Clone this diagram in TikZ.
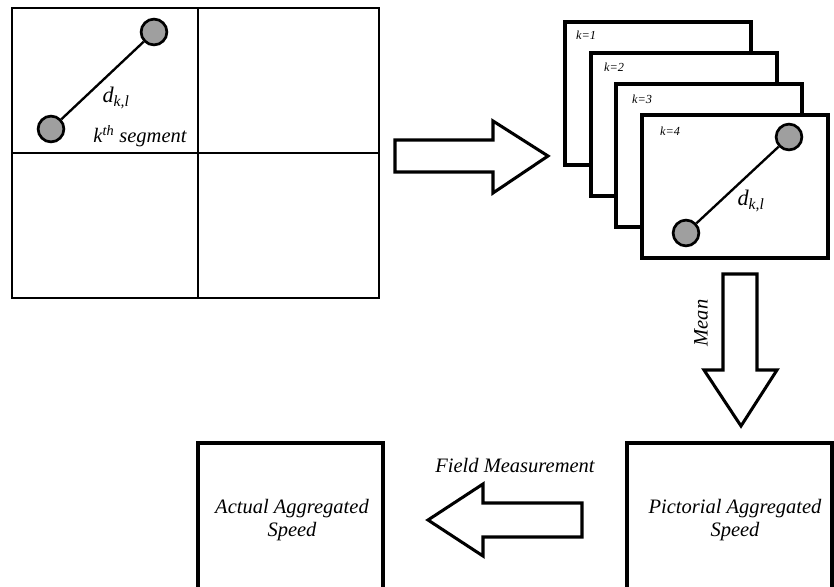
\documentclass[tikz,border=0pt]{standalone}
\usepackage{fontspec}
\setmainfont{Liberation Serif}
\usepackage{tikz}

\tikzset{
	dot/.style={circle, draw, line width=2.3pt, fill=gray!75, minimum size=22pt, inner sep=0pt},
	frame/.style={draw, line width=3.3pt, fill=white},
	block/.style={draw, line width=2.6pt, fill=white, line join=miter},
	lbl/.style={font=\itshape\fontsize{17.5}{19}\selectfont, align=center},
	klbl/.style={font=\itshape\fontsize{10.5}{12}\selectfont, anchor=west}
}

\begin{document}
\begin{tikzpicture}[x=0.03cm, y=-0.03cm]
					\useasboundingbox (0, 0) rectangle (834, 587);
					
					% segment grid
					\draw[line width=1.6pt] (12, 8) rectangle (379, 298);
					\draw[line width=1.6pt] (198, 8) -- (198, 298);
					\draw[line width=1.6pt] (12, 153) -- (379, 153);
					\node[dot] (GridA) at (51, 129) {};
					\node[dot] (GridB) at (154, 32) {};
					\draw[line width=2pt] (GridA) -- (GridB);
					\node[lbl, font=\itshape\fontsize{19}{21}\selectfont] (GridD) at (116, 98) {d\textsubscript{k,l}};
					\node[lbl] (Segment) at (140, 136) {k\textsuperscript{th} segment};
					
					% arrow to frames
					\draw[block] (395, 140) -- (493, 140) -- (493, 121) -- (548, 156) -- (493, 193) -- (493, 172) -- (395, 172) -- cycle;
					
					% frames k=1..4
					\foreach \k in {1, 2, 3, 4} {
						\draw[frame] ({565 + 25.7*(\k-1)}, {22 + 31*(\k-1)}) rectangle ++(186, 143);
						\node[klbl] (K\k) at ({572 + 28*(\k-1)}, {35 + 32*(\k-1)}) {k=\k};
					}
					\node[dot] (FrameA) at (686, 233) {};
					\node[dot] (FrameB) at (789, 137) {};
					\draw[line width=2pt] (FrameA) -- (FrameB);
					\node[lbl, font=\itshape\fontsize{19}{21}\selectfont] (FrameD) at (751, 201) {d\textsubscript{k,l}};
					
					% mean
					\draw[block] (723, 274) -- (757, 274) -- (757, 370) -- (777, 370) -- (741, 426) -- (704, 370) -- (723, 370) -- cycle;
					\node[lbl, rotate=90] (Mean) at (701, 323) {Mean};
					
					% speeds
					\draw[frame] (627, 443) rectangle (832, 590);
					\node[lbl] (Pictorial) at (735, 520) {Pictorial Aggregated\\Speed};
					\draw[frame] (198, 443) rectangle (383, 590);
					\node[lbl] (Actual) at (292, 520) {Actual Aggregated\\Speed};
					\draw[block] (582, 503) -- (483, 503) -- (483, 484) -- (428, 520) -- (483, 556) -- (483, 537) -- (582, 537) -- cycle;
					\node[lbl] (Field) at (515, 466) {Field Measurement};
\end{tikzpicture}
\end{document}
